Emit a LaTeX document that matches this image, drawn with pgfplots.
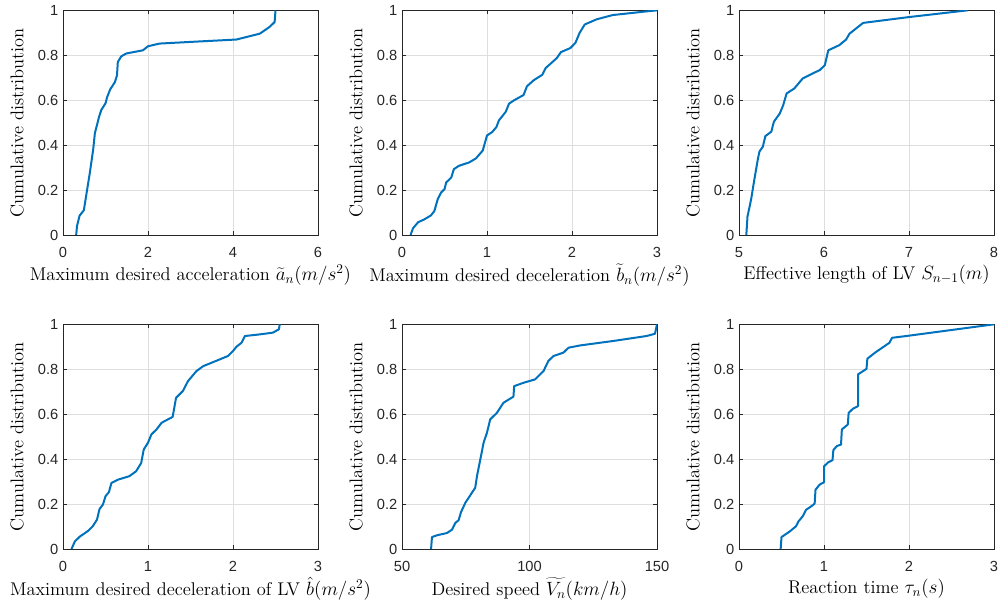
\documentclass[border=0pt]{standalone}
\usepackage{fontspec}
\usepackage{pgfplots}
\pgfplotsset{compat=1.18}
\newfontfamily\tickfont{Liberation Sans}
\definecolor{mblue}{rgb}{0,0.447,0.741}
\pgfplotsset{cdf/.style={
  scale only axis, width=191.25pt, height=168.5pt, anchor=south west,
  ymin=0, ymax=1, ytick={0,0.2,0.4,0.6,0.8,1},
  grid=major, grid style={black!13, line width=0.4pt},
  axis line style={black!85, line width=0.5pt},
  tick style={black!85, line width=0.5pt},
  tick align=inside, tick pos=both, major tick length=3pt,
  ylabel={Cumulative distribution},
  label style={font=\fontsize{13.8}{15}\selectfont},
  xlabel style={at={(axis description cs:0.5,-0.178)}, anchor=center},
  ylabel style={at={(axis description cs:-0.18,0.5)}, anchor=center},
  tick label style={font=\tickfont\fontsize{11}{12}\selectfont, text=black!85},
  x tick label style={yshift=-5.5pt},
  /pgf/number format/assume math mode=true,
  cycle list={mblue,line width=1.5pt,line join=round,mark=none\\},
}}
\begin{document}
\begin{tikzpicture}
\useasboundingbox (0,0) rectangle (751.5pt,459.75pt);
% Axis 1
\begin{axis}[cdf, at={(47.25pt,283.5pt)}, xmin=0, xmax=6, xtick={0,2,4,6},
  xlabel={Maximum desired acceleration $\widetilde{a}_n(m/s^2)$}]
\addplot coordinates {(0.31,0) (0.33,0.04) (0.39,0.086) (0.49,0.11) (0.53,0.157) (0.63,0.275) (0.71,0.38) (0.75,0.453) (0.85,0.527) (0.9,0.556) (1.0,0.586) (1.04,0.615) (1.11,0.648) (1.22,0.68) (1.27,0.71) (1.29,0.77) (1.37,0.795) (1.49,0.808) (1.88,0.822) (2.0,0.84) (2.27,0.852) (3.06,0.86) (4.08,0.87) (4.31,0.881) (4.63,0.896) (4.86,0.926) (4.98,0.948) (5.0,1.0)};
\end{axis}
% Axis 2
\begin{axis}[cdf, at={(301.5pt,283.5pt)}, xmin=0, xmax=3, xtick={0,1,2,3},
  xlabel={Maximum desired deceleration $\widetilde{b}_n(m/s^2)$}]
\addplot coordinates {(0.10,0) (0.13,0.03) (0.19,0.057) (0.26,0.069) (0.34,0.087) (0.38,0.106) (0.42,0.159) (0.46,0.189) (0.5,0.204) (0.52,0.234) (0.58,0.256) (0.61,0.293) (0.67,0.308) (0.79,0.323) (0.87,0.341) (0.95,0.376) (1.0,0.443) (1.06,0.458) (1.11,0.48) (1.14,0.51) (1.22,0.548) (1.26,0.585) (1.32,0.6) (1.43,0.623) (1.47,0.662) (1.55,0.689) (1.65,0.713) (1.69,0.743) (1.82,0.787) (1.87,0.814) (1.98,0.832) (2.04,0.855) (2.09,0.9) (2.15,0.937) (2.29,0.96) (2.48,0.979) (2.87,0.995) (3.0,1.0)};
\end{axis}
% Axis 3
\begin{axis}[cdf, at={(554.25pt,283.5pt)}, xmin=5, xmax=8, xtick={5,6,7,8},
  xlabel={Effective length of LV $S_{n-1}(m)$}]
\addplot coordinates {(5.086,0) (5.1,0.083) (5.125,0.127) (5.145,0.164) (5.17,0.223) (5.2,0.29) (5.22,0.334) (5.24,0.371) (5.28,0.393) (5.31,0.44) (5.38,0.46) (5.41,0.504) (5.48,0.541) (5.52,0.578) (5.56,0.63) (5.65,0.652) (5.75,0.697) (5.85,0.716) (5.95,0.734) (6.01,0.756) (6.05,0.822) (6.18,0.845) (6.26,0.87) (6.3,0.896) (6.36,0.914) (6.46,0.944) (7.0,0.97) (7.69,1.0)};
\end{axis}
% Axis 4
\begin{axis}[cdf, at={(47.25pt,48pt)}, xmin=0, xmax=3, xtick={0,1,2,3},
  xlabel={Maximum desired deceleration of LV $\hat{b}(m/s^2)$}]
\addplot coordinates {(0.1,0) (0.14,0.034) (0.2,0.056) (0.29,0.079) (0.35,0.101) (0.4,0.131) (0.43,0.178) (0.47,0.198) (0.5,0.235) (0.54,0.253) (0.57,0.294) (0.65,0.309) (0.78,0.324) (0.86,0.346) (0.92,0.383) (0.95,0.443) (1.0,0.473) (1.04,0.51) (1.1,0.532) (1.16,0.562) (1.29,0.588) (1.33,0.673) (1.41,0.703) (1.47,0.747) (1.57,0.792) (1.65,0.814) (1.8,0.837) (1.94,0.859) (2.0,0.881) (2.04,0.9) (2.1,0.918) (2.14,0.948) (2.31,0.955) (2.47,0.963) (2.54,0.978) (2.55,1.0)};
\end{axis}
% Axis 5
\begin{axis}[cdf, at={(301.5pt,48pt)}, xmin=50, xmax=150, xtick={50,100,150},
  xlabel={Desired speed $\widetilde{V_n}(km/h)$}]
\addplot coordinates {(61.4,0) (61.75,0.053) (63.7,0.061) (67.6,0.071) (69.6,0.086) (70.9,0.116) (72.2,0.128) (73.1,0.163) (74.8,0.205) (77.4,0.25) (78.7,0.272) (79.4,0.324) (80.7,0.398) (82.0,0.473) (83.3,0.517) (84.6,0.577) (87.2,0.606) (89.8,0.651) (93.7,0.678) (94.0,0.725) (97.7,0.74) (102.2,0.755) (105.5,0.792) (107.4,0.837) (109.4,0.859) (113.3,0.874) (115.3,0.896) (119.8,0.906) (132.9,0.926) (145.9,0.948) (149.2,0.958) (150,1.0)};
\end{axis}
% Axis 6
\begin{axis}[cdf, at={(554.25pt,48pt)}, xmin=0, xmax=3, xtick={0,1,2,3},
  xlabel={Reaction time $\tau_n(s)$}]
\addplot coordinates {(0.49,0) (0.5,0.053) (0.6,0.079) (0.67,0.101) (0.7,0.123) (0.75,0.146) (0.79,0.175) (0.85,0.19) (0.89,0.202) (0.9,0.264) (0.95,0.287) (1.0,0.297) (1.0,0.368) (1.05,0.386) (1.1,0.395) (1.11,0.44) (1.15,0.458) (1.2,0.465) (1.21,0.532) (1.28,0.554) (1.29,0.606) (1.34,0.624) (1.4,0.636) (1.4,0.777) (1.46,0.792) (1.5,0.802) (1.51,0.847) (1.6,0.874) (1.77,0.918) (1.8,0.94) (1.97,0.948) (3.0,1.0)};
\end{axis}
\end{tikzpicture}
\end{document}
